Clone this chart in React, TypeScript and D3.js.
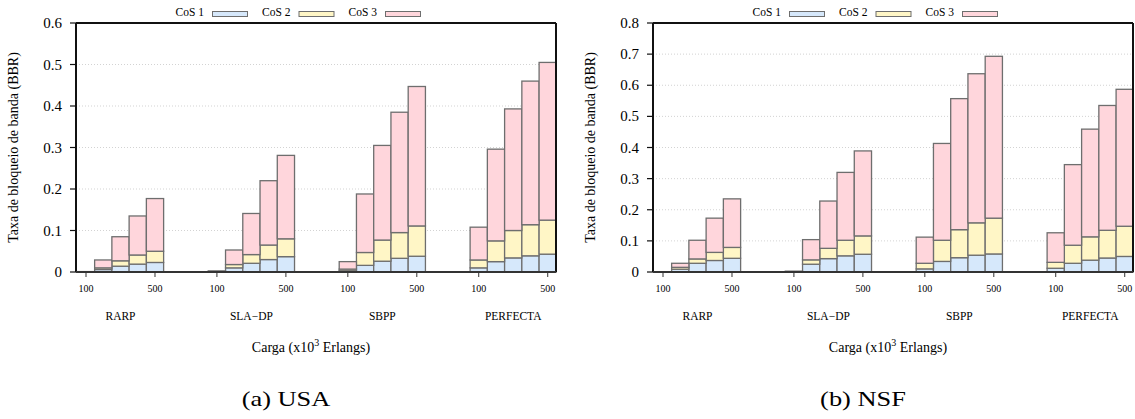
import * as d3 from 'd3';

// layout of one panel (both panels share the same geometry)
const PLOT = { left: 76, top: 23, width: 480, height: 249 };
const PANEL_OFFSET = 577;

const FONT = '"Liberation Serif", "Times New Roman", serif';

const color = {
  cos1: '#d6e8fb',
  cos2: '#fff6c6',
  cos3: '#ffd6dc',
  barStroke: '#6e6e6e',
  grid: '#c8c8c8',
};

// categories
const methods = ['RARP', 'SLA\u2212DP', 'SBPP', 'PERFECTA'];
const loads = [100, 200, 300, 400, 500];
const cosNames = ['CoS 1', 'CoS 2', 'CoS 3'];

// USA: stacked increments per class, 4 methods x 5 loads
const usaCos1 = [
  0.0003, 0.006, 0.014, 0.019, 0.023,
  0.001, 0.01, 0.021, 0.03, 0.037,
  0.003, 0.016, 0.026, 0.033, 0.038,
  0.01, 0.025, 0.034, 0.039, 0.043,
];
const usaCos2 = [
  0.0002, 0.004, 0.013, 0.022, 0.027,
  0.0005, 0.008, 0.021, 0.035, 0.043,
  0.004, 0.031, 0.051, 0.062, 0.073,
  0.019, 0.05, 0.066, 0.075, 0.082,
];
const usaCos3 = [
  0.0005, 0.019, 0.058, 0.094, 0.127,
  0.001, 0.035, 0.099, 0.155, 0.201,
  0.018, 0.141, 0.228, 0.29, 0.336,
  0.079, 0.221, 0.293, 0.346, 0.38,
];

// NSF
const nsfCos1 = [
  0.0003, 0.009, 0.028, 0.037, 0.044,
  0.001, 0.025, 0.043, 0.052, 0.057,
  0.01, 0.034, 0.046, 0.054, 0.058,
  0.012, 0.028, 0.038, 0.045, 0.05,
];
const nsfCos2 = [
  0.0002, 0.006, 0.014, 0.026, 0.035,
  0.0005, 0.014, 0.033, 0.05, 0.059,
  0.018, 0.068, 0.09, 0.104, 0.115,
  0.019, 0.058, 0.075, 0.089, 0.097,
];
const nsfCos3 = [
  0.0005, 0.013, 0.06, 0.11, 0.156,
  0.001, 0.065, 0.152, 0.218, 0.273,
  0.084, 0.311, 0.421, 0.479, 0.52,
  0.095, 0.259, 0.346, 0.401, 0.44,
];

const usaYTicks = [0, 0.1, 0.2, 0.3, 0.4, 0.5, 0.6];
const nsfYTicks = [0, 0.1, 0.2, 0.3, 0.4, 0.5, 0.6, 0.7, 0.8];
const xTickLoads = [100, 500];

// bar units: one load step = 1 unit, groups 7.59 units apart
const GROUP_STEP = 7.59;
const barPos = (g: number, i: number) => g * GROUP_STEP + i;

type PanelProps = {
  offsetX: number;
  yMax: number;
  yTicks: number[];
  cos1: number[];
  cos2: number[];
  cos3: number[];
  caption: string;
};

const Panel = ({ offsetX, yMax, yTicks, cos1, cos2, cos3, caption }: PanelProps) => {
  const xScale = d3.scaleLinear().domain([-0.58, 27.25]).range([0, PLOT.width]);
  const yScale = d3.scaleLinear().domain([0, yMax]).range([PLOT.height, 0]);
  const unit = xScale(1) - xScale(0);

  const rows = methods.flatMap((m, g) =>
    loads.map((load, i) => ({ g, i, c1: cos1[g * 5 + i], c2: cos2[g * 5 + i], c3: cos3[g * 5 + i] })),
  );
  const stack = d3
    .stack<any>()
    .keys(['c1', 'c2', 'c3'])(rows);
  const fills = [color.cos1, color.cos2, color.cos3];

  const fmt = (v: number) => (v === 0 ? '0' : d3.format('.1f')(v));

  return (
    <g transform={`translate(${offsetX},0)`}>
      {/* legend */}
      {cosNames.map((name, k) => {
        const textEnd = PLOT.left + 128 + 86.5 * k;
        return (
          <g key={name}>
            <text x={textEnd} y={16} textAnchor="end" fontSize={11.5} fontFamily={FONT}>
              {name}
            </text>
            <rect x={textEnd + 8.5} y={11.5} width={35} height={5} fill={fills[k]} stroke={color.barStroke} strokeWidth={1} />
          </g>
        );
      })}

      <g transform={`translate(${PLOT.left},${PLOT.top})`}>
        {/* grid */}
        {yTicks
          .filter(t => t > 0 && t < yMax)
          .map(t => (
            <line
              key={t}
              x1={0}
              x2={PLOT.width}
              y1={yScale(t)}
              y2={yScale(t)}
              stroke={color.grid}
              strokeWidth={0.8}
              strokeDasharray="1,2"
            />
          ))}

        {/* bars */}
        {stack.map((layer, k) =>
          layer.map((d, j) => {
            const r = rows[j];
            const x = xScale(barPos(r.g, r.i)) - unit / 2;
            const y0 = yScale(d[0]);
            const y1 = yScale(d[1]);
            return (
              <rect
                key={`${k}-${j}`}
                x={x}
                y={y1}
                width={unit}
                height={Math.max(0, y0 - y1)}
                fill={fills[k]}
                stroke={color.barStroke}
                strokeWidth={1.3}
              />
            );
          }),
        )}

        {/* frame */}
        <line x1={0} x2={PLOT.width} y1={0} y2={0} stroke="#111" strokeWidth={2} />
        <line x1={PLOT.width} x2={PLOT.width} y1={0} y2={PLOT.height} stroke="#111" strokeWidth={2} />
        <line x1={0} x2={0} y1={0} y2={PLOT.height} stroke="#111" strokeWidth={2} />
        <line x1={0} x2={PLOT.width} y1={PLOT.height} y2={PLOT.height} stroke="#333" strokeWidth={2} />

        {/* y axis */}
        {yTicks.map(t => (
          <g key={t} transform={`translate(0,${yScale(t)})`}>
            <line x1={-6} x2={0} stroke="#111" strokeWidth={1.2} />
            <text x={-14} dy="0.34em" textAnchor="end" fontSize={15} fontFamily={FONT}>
              {fmt(t)}
            </text>
          </g>
        ))}

        {/* x axis ticks */}
        {methods.map((m, g) => (
          <g key={m}>
            {xTickLoads.map(load => {
              const x = xScale(barPos(g, loads.indexOf(load)));
              return (
                <g key={load} transform={`translate(${x},${PLOT.height})`}>
                  <line y1={0} y2={5} stroke="#333" strokeWidth={1} />
                  <text y={20} textAnchor="middle" fontSize={10} fontFamily={FONT}>
                    {load}
                  </text>
                </g>
              );
            })}
            <text
              x={(xScale(barPos(g, 0)) + xScale(barPos(g, 4))) / 2}
              y={PLOT.height + 48}
              textAnchor="middle"
              fontSize={11.5}
              fontFamily={FONT}
            >
              {m}
            </text>
          </g>
        ))}

        {/* axis titles */}
        <text
          x={PLOT.width / 2 - 5}
          y={PLOT.height + 80}
          textAnchor="middle"
          fontSize={14}
          fontFamily={FONT}
        >
          Carga (x10
          <tspan dy={-6} fontSize={10}>
            3
          </tspan>
          <tspan dy={6}> Erlangs)</tspan>
        </text>
        <text
          transform={`translate(${-58},${PLOT.height / 2}) rotate(-90)`}
          textAnchor="middle"
          fontSize={14}
          fontFamily={FONT}
        >
          Taxa de bloqueio de banda (BBR)
        </text>
      </g>

      {/* caption */}
      <text
        x={PLOT.left + 210}
        y={406}
        textAnchor="middle"
        fontSize={22}
        fontFamily={FONT}
        transform={`translate(${PLOT.left + 210},0) scale(1.2,1) translate(${-(PLOT.left + 210)},0)`}
      >
        {caption}
      </text>
    </g>
  );
};

const App = () => {
  return (
    <svg
      width={1135}
      height={419}
      style={{ position: 'absolute', left: 0, top: 0, background: '#fff' }}
    >
      <Panel offsetX={0} yMax={0.6} yTicks={usaYTicks} cos1={usaCos1} cos2={usaCos2} cos3={usaCos3} caption="(a)  USA" />
      <Panel
        offsetX={PANEL_OFFSET}
        yMax={0.8}
        yTicks={nsfYTicks}
        cos1={nsfCos1}
        cos2={nsfCos2}
        cos3={nsfCos3}
        caption="(b)  NSF"
      />
    </svg>
  );
};

export default App;
